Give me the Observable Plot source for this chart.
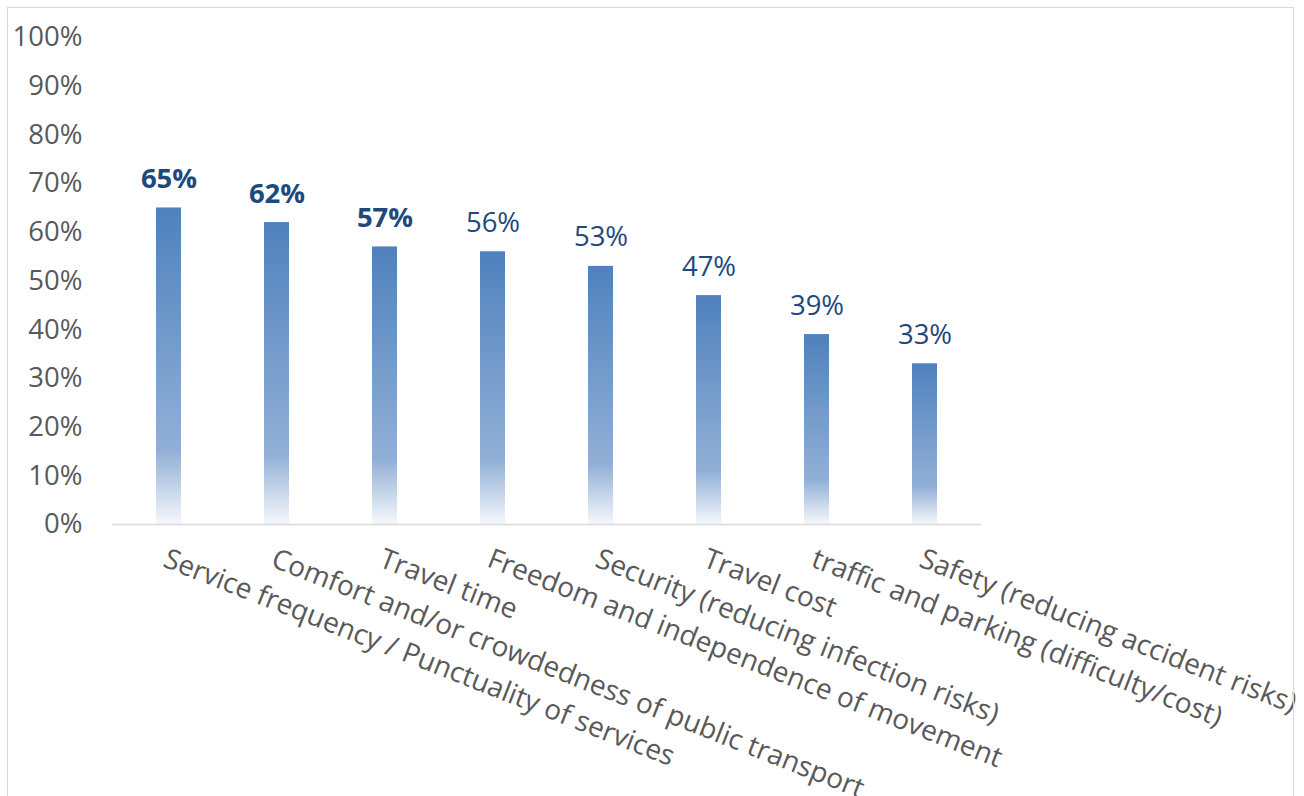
<!DOCTYPE html>
<html><head><meta charset="utf-8">
<script src="https://cdn.jsdelivr.net/npm/d3@7"></script>
<script src="https://cdn.jsdelivr.net/npm/@observablehq/plot@0.6"></script>
<style>
body{margin:0;background:#fff;overflow:hidden;}
#chart{position:absolute;left:0;top:0;}
#frame{position:absolute;left:7px;top:7px;width:1285px;height:820px;border:1px solid #d9d9d9;pointer-events:none;}
</style></head><body>
<div id="chart"></div><div id="frame"></div>
<script>
const categories = [
  "Service frequency / Punctuality of services",
  "Comfort and/or crowdedness of public transport",
  "Travel time",
  "Freedom and independence of movement",
  "Security (reducing infection risks)",
  "Travel cost",
  "traffic and parking (difficulty/cost)",
  "Safety (reducing accident risks)"
];
const values = [0.65, 0.62, 0.57, 0.56, 0.53, 0.47, 0.39, 0.33];
const boldLabels = [true, true, true, false, false, false, false, false];
const yTicks = [0, 0.1, 0.2, 0.3, 0.4, 0.5, 0.6, 0.7, 0.8, 0.9, 1.0];

const data = categories.map((c, i) => ({category: c, value: values[i], bold: boldLabels[i]}));
const pct = d => Math.round(d * 100) + "%";

const plot = Plot.plot({
  width: 1304, height: 796,
  marginLeft: 112, marginRight: 323, marginTop: 37, marginBottom: 272,
  style: {fontFamily: "'Open Sans', sans-serif", fontSize: "27.5px", color: "#595959", background: "transparent", overflow: "visible"},
  x: {domain: categories, paddingInner: 0.77, paddingOuter: 0.385, label: null},
  y: {domain: [0, 1], label: null},
  marks: [
    Plot.barY(data, {x: "category", y: "value", fill: "url(#barGrad)"}),
    Plot.ruleY([0], {stroke: "#d9d9d9", strokeWidth: 1.5}),
    Plot.text(data.filter(d => d.bold), {x: "category", y: "value", text: d => pct(d.value), dy: -20, lineAnchor: "bottom", fill: "#1f497d", fontWeight: "bold", fontSize: 27.5}),
    Plot.text(data.filter(d => !d.bold), {x: "category", y: "value", text: d => pct(d.value), dy: -20, lineAnchor: "bottom", fill: "#1f497d", fontSize: 27.5}),
    Plot.axisY({ticks: yTicks, tickFormat: pct, tickSize: 0, tickPadding: 30, fontSize: 27.5, fill: "#595959", label: null}),
    Plot.axisX({tickSize: 0, tickPadding: 23, tickRotate: 21.5, textAnchor: "start", lineAnchor: "top", fontSize: 28, fill: "#595959", label: null})
  ]
});

d3.select(plot).append("defs").html(`
  <linearGradient id="barGrad" x1="0" y1="0" x2="0" y2="1">
    <stop offset="0" stop-color="#4f81bd"/>
    <stop offset="0.77" stop-color="#92b0d6"/>
    <stop offset="1" stop-color="#f5f8fc"/>
  </linearGradient>`);

document.getElementById("chart").appendChild(plot);
</script>
</body></html>
